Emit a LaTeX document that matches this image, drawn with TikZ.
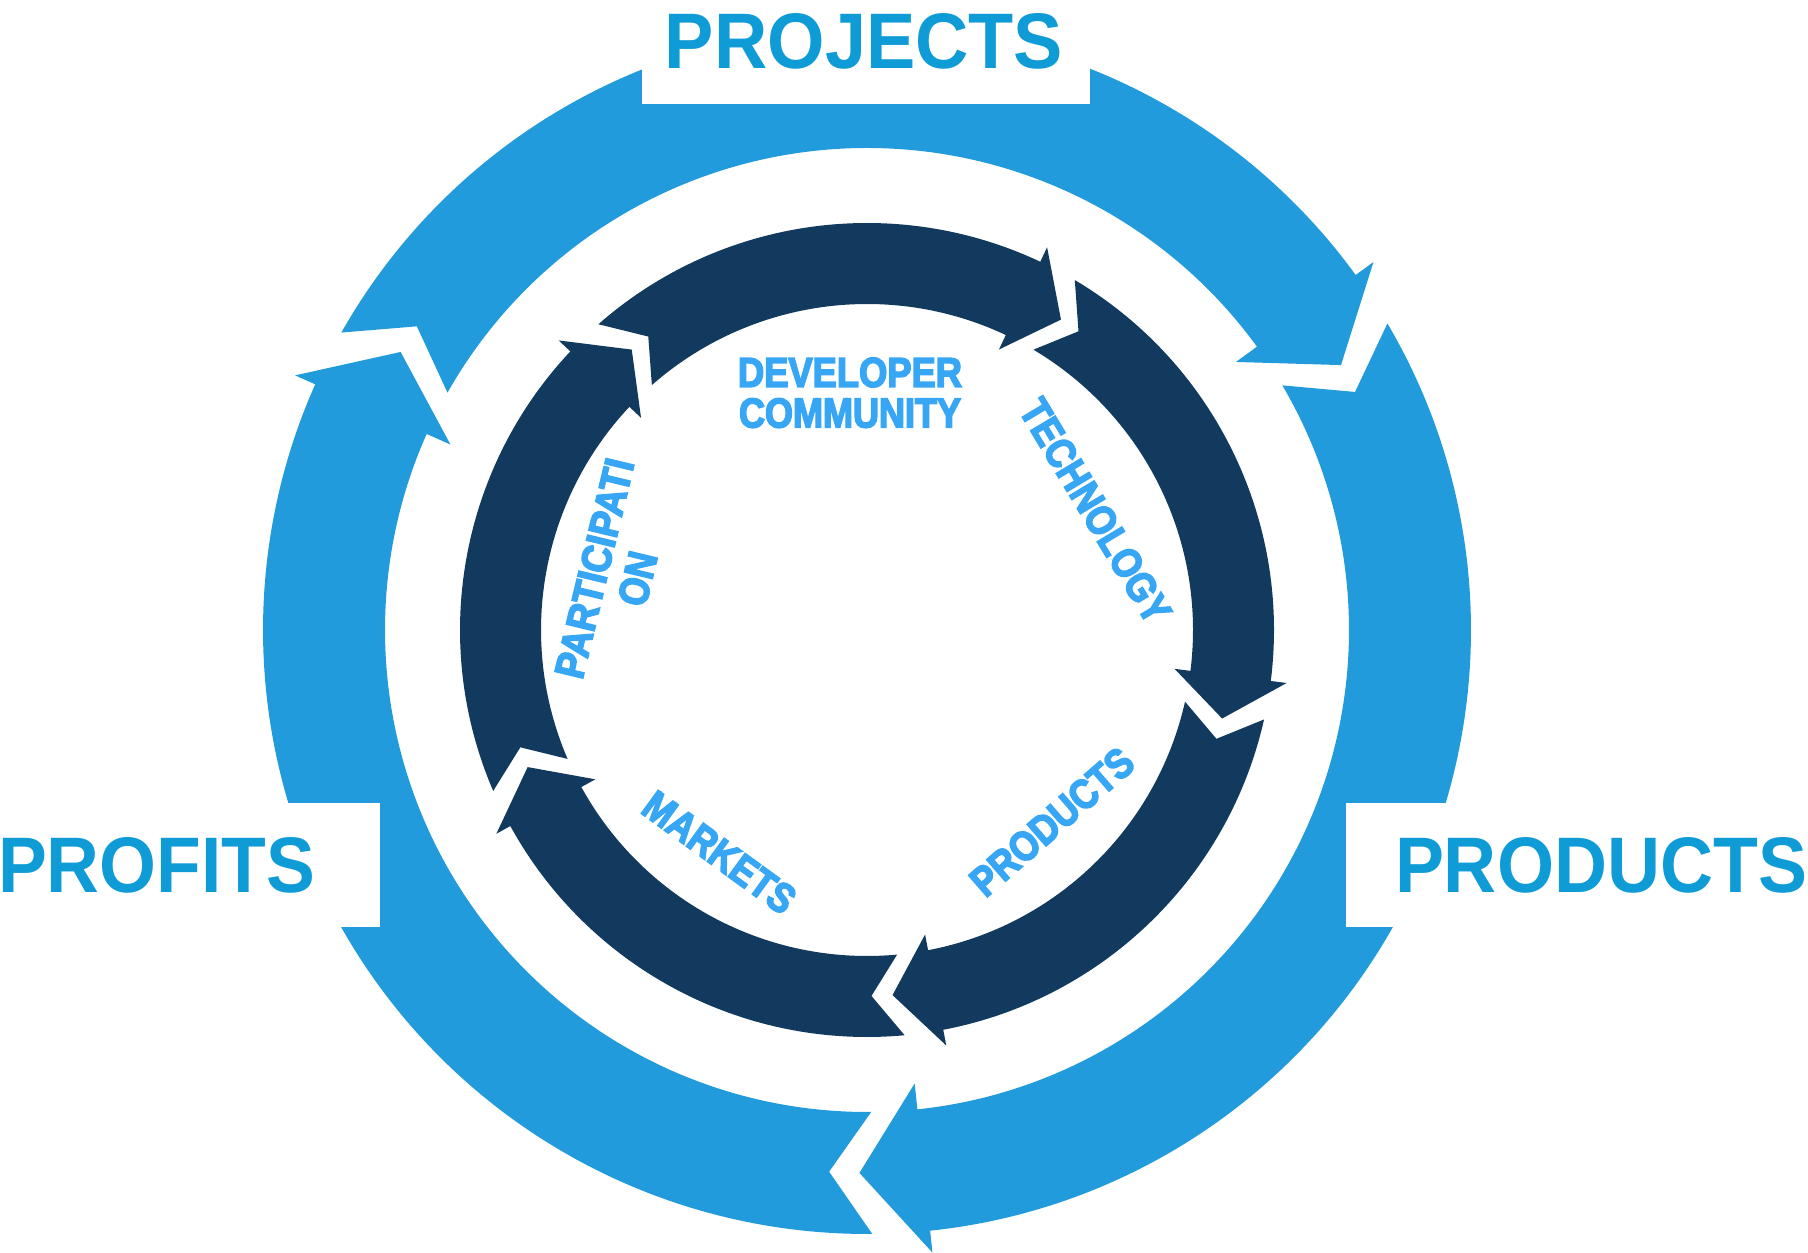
\documentclass[tikz,border=0pt]{standalone}
\usepackage{fontspec}
\setmainfont{Liberation Sans}
\newfontfamily\bigfont{Liberation Sans Bold}
\newfontfamily\smallfont[FakeBold=4]{Liberation Sans Bold}
\usepackage{graphicx}
\definecolor{outerblue}{HTML}{229BDD}
\definecolor{navy}{HTML}{113A5E}
\definecolor{bigtxt}{HTML}{0E9BD6}
\definecolor{smalltxt}{HTML}{37A6F5}
\begin{document}
\begin{tikzpicture}[x=0.5pt,y=0.5pt,
  biglabel/.style={text=bigtxt, font=\bigfont\fontsize{38}{40}\selectfont, inner sep=0pt, anchor=base},
  smalllabel/.style={text=smalltxt, font=\smallfont\fontsize{20}{20.3}\selectfont, inner sep=0pt, align=center}]
\useasboundingbox (0,0) rectangle (1808,1252);
% outer ring: three arrows
\begin{scope}[shift={(867,622)}]
 \foreach \t in {150.5,30.5,-89.5}{
  \pgfmathsetmacro\angB{\t-114.5}
  \pgfmathsetmacro\angP{\t-121.3}
  \pgfmathsetmacro\angN{\t-4.5}
  \fill[outerblue] (\t:604) arc[start angle=\t, end angle=\angB, radius=604]
     -- (\angB:626) -- (\angP:543) -- (\angB:456) -- (\angB:482)
     arc[start angle=\angB, end angle=\t, radius=482] -- (\angN:543) -- cycle;
 }
\end{scope}
% white label boxes
\fill[white] (642,1148) rectangle (1090,1260);
\fill[white] (-5,325) rectangle (380,449);
\fill[white] (1346,325) rectangle (1815,449);
% inner ring: five arrows
\begin{scope}[shift={(867,622)}]
 \foreach \t in {131.3,59.3,-12.7,-84.7,-156.7}{
  \pgfmathsetmacro\angB{\t-66.5}
  \pgfmathsetmacro\angP{\t-73.3}
  \pgfmathsetmacro\angN{\t-4.6}
  \fill[navy] (\t:407) arc[start angle=\t, end angle=\angB, radius=407]
     -- (\angB:423) -- (\angP:366) -- (\angB:310) -- (\angB:326)
     arc[start angle=\angB, end angle=\t, radius=326] -- (\angN:366) -- cycle;
 }
\end{scope}
% outer labels
\node[biglabel] (projects) at (864,1183) {\resizebox{199pt}{27.5pt}{PROJECTS}};
\node[biglabel] (products) at (1601,359) {\resizebox{206pt}{27.5pt}{PRODUCTS}};
\node[biglabel] (profits) at (156.5,359) {\resizebox{158.5pt}{27.5pt}{PROFITS}};
% inner labels
\node[smalllabel] (developer) at (850,859.2) {\resizebox{112pt}{14.5pt}{DEVELOPER}\\\resizebox{111pt}{14.5pt}{COMMUNITY}};
\node[smalllabel, rotate=-59] (technology) at (1095.5,741) {\resizebox{126.5pt}{14.5pt}{TECHNOLOGY}};
\node[smalllabel, rotate=41] (innerproducts) at (1052,430.2) {\resizebox{100.5pt}{14.5pt}{PRODUCTS}};
\node[smalllabel, rotate=-36] (markets) at (719.4,399.5) {\resizebox{88.5pt}{14.5pt}{MARKETS}};
\node[smalllabel, rotate=76.5, font=\smallfont\fontsize{20}{22.2}\selectfont] (participation) at (616,678.5) {\resizebox{112pt}{14.5pt}{PARTICIPATI}\\\resizebox{27pt}{14.5pt}{ON}};
\end{tikzpicture}
\end{document}
